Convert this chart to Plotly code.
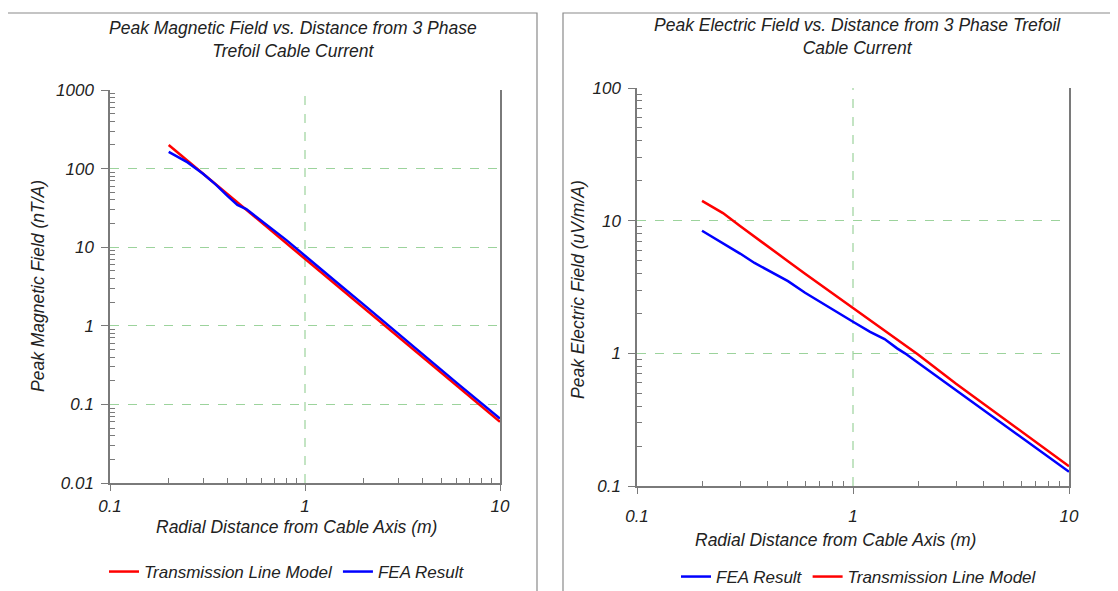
import plotly.graph_objects as go

# ---- Data ----
r_mag = [0.2, 0.25, 0.3, 0.35, 0.4, 0.45, 0.5, 0.6, 0.7, 0.8, 1.0, 1.2, 1.5, 2.0, 2.5, 3.0, 4.0, 5.0, 6.0, 7.0, 8.0, 10.0]
mag_tl = [200, 126, 86, 63, 47.6, 37.5, 29.9, 20.5, 14.9, 11.3, 7.1, 4.86, 3.06, 1.69, 1.06, 0.73, 0.40, 0.252, 0.173, 0.125, 0.095, 0.060]
mag_fea = [163, 120, 86, 62, 45, 34.5, 30.5, 21.5, 16.0, 12.4, 7.8, 5.3, 3.35, 1.86, 1.16, 0.80, 0.44, 0.275, 0.188, 0.136, 0.103, 0.066]

r_el = [0.2, 0.25, 0.3, 0.35, 0.4, 0.5, 0.6, 0.7, 0.8, 1.0, 1.2, 1.4, 1.6, 1.74, 2.0, 3.0, 4.0, 5.0, 7.0, 10.0]
el_tl = [14.1, 11.4, 9.1, 7.6, 6.4, 4.95, 3.98, 3.33, 2.85, 2.2, 1.77, 1.5, 1.28, 1.16, 0.98, 0.59, 0.42, 0.323, 0.216, 0.141]
el_fea = [8.4, 6.8, 5.65, 4.8, 4.25, 3.5, 2.86, 2.45, 2.14, 1.73, 1.45, 1.28, 1.09, 1.0, 0.85, 0.527, 0.376, 0.289, 0.195, 0.128]

x_ticks = [0.1, 1, 10]
x_tick_text = ["0.1", "1", "10"]
x_minor = [0.2, 0.3, 0.4, 0.5, 0.6, 0.7, 0.8, 0.9, 2, 3, 4, 5, 6, 7, 8, 9]
mag_ticks = [0.01, 0.1, 1, 10, 100, 1000]
mag_tick_text = ["0.01", "0.1", "1", "10", "100", "1000"]
mag_minor = [m * d for d in [0.01, 0.1, 1, 10, 100] for m in [2, 3, 4, 5, 6, 7, 8, 9]]
el_ticks = [0.1, 1, 10, 100]
el_tick_text = ["0.1", "1", "10", "100"]
el_minor = [m * d for d in [0.1, 1, 10] for m in [2, 3, 4, 5, 6, 7, 8, 9]]

FONT = "Liberation Sans"
OFF = 8                      # page body margin
W, H = 1118 - OFF, 591 - OFF
RED = "#ff0000"
BLUE = "#0000ff"
GRID = "#9cd39c"
AX = "#7a7a7a"
TXT = "#222222"


def PX(p):
    return (p - OFF) / W


def PY(p):
    return 1 - (p - OFF) / H


fig = go.Figure()
fig.add_trace(go.Scatter(x=r_mag, y=mag_tl, mode="lines", name="Transmission Line Model",
                         line=dict(color=RED, width=2.5), xaxis="x", yaxis="y", legend="legend"))
fig.add_trace(go.Scatter(x=r_mag, y=mag_fea, mode="lines", name="FEA Result",
                         line=dict(color=BLUE, width=2.5), xaxis="x", yaxis="y", legend="legend"))
fig.add_trace(go.Scatter(x=r_el, y=el_fea, mode="lines", name="FEA Result",
                         line=dict(color=BLUE, width=2.5), xaxis="x2", yaxis="y2", legend="legend2"))
fig.add_trace(go.Scatter(x=r_el, y=el_tl, mode="lines", name="Transmission Line Model",
                         line=dict(color=RED, width=2.5), xaxis="x2", yaxis="y2", legend="legend2"))

tickfont = dict(family=FONT, size=17, color=TXT, style="italic")


def xax(domain, anchor, standoff):
    return dict(type="log", range=[-1, 1], domain=domain, anchor=anchor,
                tickmode="array", tickvals=x_ticks, ticktext=x_tick_text, tickfont=tickfont,
                showline=True, linecolor=AX, linewidth=1.5, mirror=False,
                ticks="outside", ticklen=6, tickcolor=AX, ticklabelstandoff=standoff,
                showgrid=False,
                minor=dict(tickmode="array", tickvals=x_minor, ticks="inside", ticklen=5,
                           tickcolor=AX, showgrid=False),
                zeroline=False)


def yax(domain, anchor, rng, vals, text, minor_vals):
    return dict(type="log", range=rng, domain=domain, anchor=anchor,
                tickmode="array", tickvals=vals, ticktext=text, tickfont=tickfont,
                showline=True, linecolor=AX, linewidth=1.5, mirror=True,
                ticks="outside", ticklen=7, tickcolor=AX, ticklabelstandoff=4,
                showgrid=True, gridcolor=GRID, griddash="dash", gridwidth=1,
                minor=dict(tickmode="array", tickvals=minor_vals, ticks="inside", ticklen=5,
                           tickcolor=AX, showgrid=False),
                zeroline=False)


lx = [PX(110), PX(500)]
ly = [PY(483), PY(90)]
rx = [PX(637), PX(1069)]
ry = [PY(486), PY(88)]

legfont = dict(family=FONT, size=17, color=TXT, style="italic")
fig.update_layout(
    width=W, height=H, margin=dict(l=0, r=0, t=0, b=0, autoexpand=False),
    paper_bgcolor="white", plot_bgcolor="white",
    font=dict(family=FONT, size=17, color=TXT, style="italic"),
    xaxis=xax(lx, "y", 1),
    yaxis=yax(ly, "x", [-2, 3], mag_ticks, mag_tick_text, mag_minor),
    xaxis2=xax(rx, "y2", 8),
    yaxis2=yax(ry, "x2", [-1, 2], el_ticks, el_tick_text, el_minor),
    legend=dict(orientation="h", x=PX(287), y=PY(572), xanchor="center", yanchor="middle",
                font=legfont, itemwidth=30, bgcolor="rgba(0,0,0,0)"),
    legend2=dict(orientation="h", x=PX(859), y=PY(577), xanchor="center", yanchor="middle",
                 font=legfont, itemwidth=30, bgcolor="rgba(0,0,0,0)"),
    showlegend=True,
)

# vertical decade gridlines (green dashed) drawn on the data axes
for xr, yr in (("x", "y domain"), ("x2", "y2 domain")):
    for v in x_ticks[1:-1]:
        fig.add_shape(type="line", xref=xr, yref=yr, x0=v, x1=v, y0=0, y1=1,
                      line=dict(color=GRID, width=1.2, dash="dash"), layer="below")

annfont = dict(family=FONT, size=17.5, color=TXT, style="italic")
anns = [
    dict(text="Peak Magnetic Field vs. Distance from 3 Phase<br>Trefoil Cable Current",
         x=PX(293), y=PY(39)),
    dict(text="Peak Electric Field vs. Distance from 3 Phase Trefoil<br>Cable Current",
         x=PX(857), y=PY(37)),
    dict(text="Radial Distance from Cable Axis (m)", x=PX(296), y=PY(527)),
    dict(text="Radial Distance from Cable Axis (m)", x=PX(835), y=PY(540)),
    dict(text="Peak Magnetic Field (nT/A)", x=PX(38), y=PY(286), textangle=-90),
    dict(text="Peak Electric Field (uV/m/A)", x=PX(578), y=PY(290), textangle=-90),
]
for a in anns:
    fig.add_annotation(xref="paper", yref="paper", showarrow=False, font=annfont,
                       xanchor="center", yanchor="middle", **a)

# panel frames
fig.add_shape(type="rect", xref="paper", yref="paper", x0=PX(7), x1=PX(537),
              y0=-0.05, y1=PY(13), line=dict(color="#8a8a8a", width=1.2), layer="below")
fig.add_shape(type="rect", xref="paper", yref="paper", x0=PX(563), x1=1.05,
              y0=-0.05, y1=PY(13), line=dict(color="#8a8a8a", width=1.2), layer="below")

fig.write_html("out.html")
